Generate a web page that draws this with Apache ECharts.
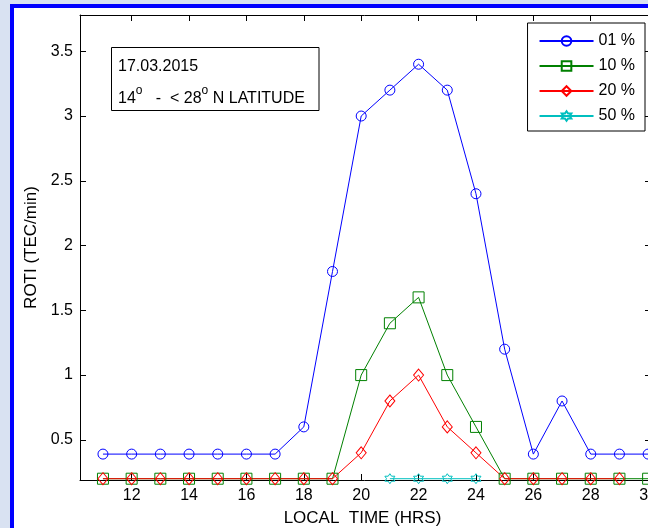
<!DOCTYPE html>
<html>
<head>
<meta charset="utf-8">
<script src="https://cdn.jsdelivr.net/npm/echarts@6/dist/echarts.min.js"></script>
<style>
html,body{margin:0;padding:0;background:#d9e2f2;}
#c{width:648px;height:528px;}
</style>
</head>
<body>
<div id="c"></div>
<script>
// Local time (hours)
const hours = [11,12,13,14,15,16,17,18,19,20,21,22,23,24,25,26,27,28,29,30];
// ROTI (TEC/min) per percentile
const roti01 = [0.39,0.39,0.39,0.39,0.39,0.39,0.39,0.6,1.8,3.0,3.2,3.4,3.2,2.4,1.2,0.39,0.8,0.39,0.39,0.39];
const roti10 = [0.2,0.2,0.2,0.2,0.2,0.2,0.2,0.2,0.2,1.0,1.4,1.6,1.0,0.6,0.2,0.2,0.2,0.2,0.2,0.2];
const roti20 = [0.2,0.2,0.2,0.2,0.2,0.2,0.2,0.2,0.2,0.4,0.8,1.0,0.6,0.4,0.2,0.2,0.2,0.2,0.2,null];
const roti50 = [null,null,null,null,null,null,null,null,null,null,0.2,0.2,0.2,0.2,null,null,null,null,null,null];
const seriesNames = ['01 %','10 %','20 %','50 %'];
const xTicks = [12,14,16,18,20,22,24,26,28,30];
const yTicks = [0.5,1,1.5,2,2.5,3,3.5];

const FONT = '"Liberation Sans", Arial, sans-serif';
const hexagram = 'path://M0,-10L2.887,-5L8.66,-5L5.774,0L8.66,5L2.887,5L0,10L-2.887,5L-8.66,5L-5.774,0L-8.66,-5L-2.887,-5Z';

function pairs(vals){ return hours.map((h,i)=>[h, vals[i]]); }
function mk(name, vals, color, symbol, size){
  return {
    name: name, type: 'line', data: pairs(vals),
    symbol: symbol, symbolSize: size, showSymbol: true,
    connectNulls: false, animation: false,
    lineStyle: {color: color, width: 1},
    itemStyle: {color: 'none', borderColor: color, borderWidth: 1},
    emphasis: {disabled: true}
  };
}

const chart = echarts.init(document.getElementById('c'), null, {renderer: 'canvas'});
const axisBase = {
  axisLine: {show: true, onZero: false, lineStyle: {color: '#000', width: 1}},
  axisTick: {show: true, inside: true, length: 6, lineStyle: {color: '#000'}},
  splitLine: {show: false}
};
chart.setOption({
  backgroundColor: '#d9e2f2',
  animation: false,
  grid: {left: 80, right: -3, top: 15, bottom: 48, outerBoundsMode: 'none', containLabel: false},
  graphic: [
    {type: 'rect', z: -1, shape: {x: 12, y: 6, width: 700, height: 600},
     style: {fill: '#fff', stroke: '#0000ff', lineWidth: 4}, silent: true},
    {type: 'rect', z: 5, shape: {x: 111.5, y: 47.5, width: 207.5, height: 63},
     style: {fill: '#fff', stroke: '#000', lineWidth: 1}, silent: true},
    {type: 'text', z: 6, x: 118, y: 67, silent: true,
     style: {text: '17.03.2015', font: '16px ' + FONT, fill: '#000', verticalAlign: 'middle'}},
    {type: 'text', z: 6, x: 118, y: 96, silent: true,
     style: {text: '{n|14}{s|o}{n|   -  < 28}{s|o}{n| N LATITUDE}', fill: '#000', verticalAlign: 'middle',
       rich: {
         n: {fontSize: 16, fontFamily: FONT, lineHeight: 22, verticalAlign: 'bottom'},
         s: {fontSize: 12, fontFamily: FONT, lineHeight: 22, verticalAlign: 'top'}
       }}}
  ],
  legend: {
    right: 3, top: 23, orient: 'vertical',
    backgroundColor: '#fff', borderColor: '#000', borderWidth: 1, borderRadius: 0,
    padding: [10, 10, 7, 11], itemGap: 9, itemWidth: 54, itemHeight: 12,
    textStyle: {fontSize: 16, fontFamily: FONT, color: '#000', lineHeight: 16},
    data: seriesNames
  },
  xAxis: [
    Object.assign({}, axisBase, {
      type: 'value', min: 10.2, max: 30.1, position: 'bottom',
      axisTick: Object.assign({}, axisBase.axisTick, {customValues: xTicks}),
      axisLabel: {customValues: xTicks, fontSize: 16, fontFamily: FONT, color: '#000', margin: 8},
      name: 'LOCAL  TIME (HRS)', nameLocation: 'middle', nameGap: 30,
      nameTextStyle: {fontSize: 17, fontFamily: FONT, color: '#000', padding: [0, 6, 0, 0]}
    }),
    Object.assign({}, axisBase, {
      type: 'value', min: 10.2, max: 30.1, position: 'top',
      axisTick: Object.assign({}, axisBase.axisTick, {customValues: xTicks}),
      axisLabel: {show: false}
    })
  ],
  yAxis: [
    Object.assign({}, axisBase, {
      type: 'value', min: 0.19, max: 3.78, position: 'left',
      axisTick: Object.assign({}, axisBase.axisTick, {customValues: yTicks}),
      axisLabel: {customValues: yTicks, fontSize: 16, fontFamily: FONT, color: '#000', margin: 7},
      name: 'ROTI (TEC/min)', nameLocation: 'middle', nameGap: 40,
      nameTextStyle: {fontSize: 17, fontFamily: FONT, color: '#000'}
    }),
    Object.assign({}, axisBase, {
      type: 'value', min: 0.19, max: 3.78, position: 'right',
      axisTick: Object.assign({}, axisBase.axisTick, {customValues: yTicks}),
      axisLabel: {show: false}
    })
  ],
  series: [
    mk(seriesNames[0], roti01, '#0000ff', 'circle', 10),
    mk(seriesNames[1], roti10, '#008000', 'rect', 11),
    mk(seriesNames[2], roti20, '#ff0000', 'diamond', [10, 12]),
    mk(seriesNames[3], roti50, '#00bfbf', hexagram, 10)
  ]
});
</script>
</body>
</html>
